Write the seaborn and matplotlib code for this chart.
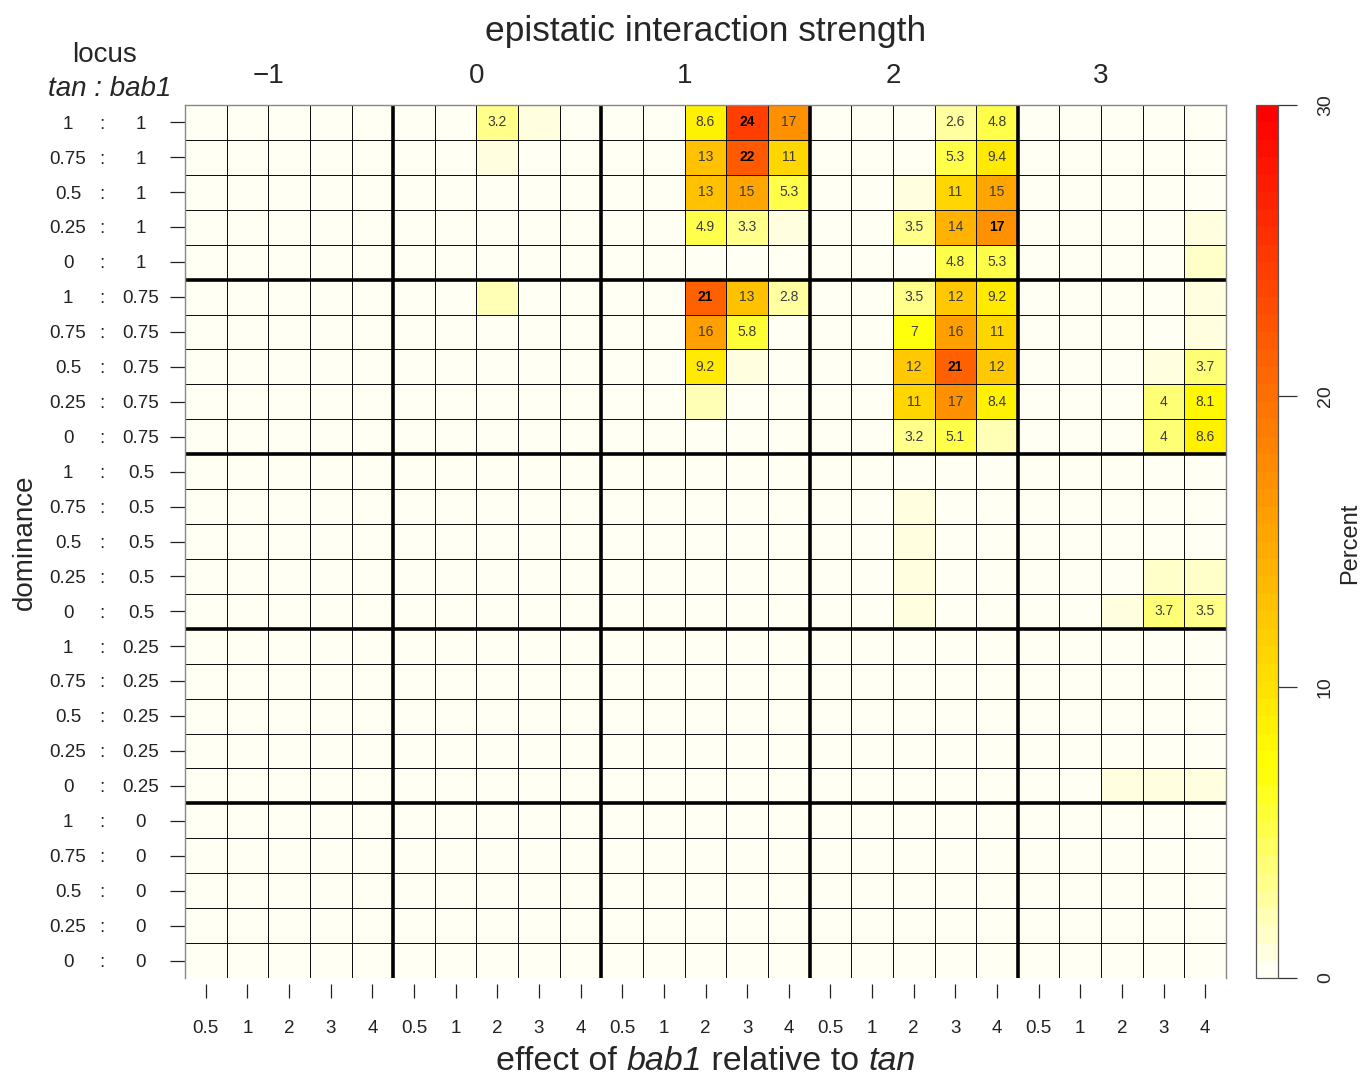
import numpy as np
import pandas as pd
import matplotlib
matplotlib.use("Agg")
import matplotlib.pyplot as plt
import seaborn as sns
from matplotlib.colors import ListedColormap, hsv_to_rgb
from matplotlib.transforms import blended_transform_factory

# ---------------- data ----------------
epistasis = ["\u22121", "0", "1", "2", "3"]          # epistatic interaction strength
effects = ["0.5", "1", "2", "3", "4"]                   # effect of bab1 relative to tan
dominance = ["1", "0.75", "0.5", "0.25", "0"]           # dominance levels

# Each block: rows = tan dominance (1, 0.75, 0.5, 0.25, 0); 25 columns = epistasis x effect
bab1_dom_1 = [
    [0, 0, 0, 0, 0,  0, 0, 3.2, 1.0, 0,  0, 0, 8.6, 24, 17,   0, 0, 0, 2.6, 4.8,  0, 0, 0, 0, 0],
    [0, 0, 0, 0, 0,  0, 0, 0.6, 0, 0,    0, 0, 13, 22, 11,    0, 0, 0, 5.3, 9.4,  0, 0, 0, 0, 0],
    [0, 0, 0, 0, 0,  0, 0, 0, 0, 0,      0, 0, 13, 15, 5.3,   0, 0, 0.6, 11, 15,  0, 0, 0, 0, 0],
    [0, 0, 0, 0, 0,  0, 0, 0, 0, 0,      0, 0, 4.9, 3.3, 0.8, 0, 0, 3.5, 14, 17,  0, 0, 0, 0, 0.7],
    [0, 0, 0, 0, 0,  0, 0, 0, 0, 0,      0, 0, 0, 0, 0,       0, 0, 0.4, 4.8, 5.3, 0, 0, 0, 0, 1.2],
]
bab1_dom_075 = [
    [0, 0, 0, 0, 0,  0, 0, 2.0, 0, 0,    0, 0, 21, 13, 2.8,   0, 0, 3.5, 12, 9.2, 0, 0, 0, 0, 0.7],
    [0, 0, 0, 0, 0,  0, 0, 0, 0, 0,      0, 0.4, 16, 5.8, 0,  0, 0, 7, 16, 11,    0, 0, 0, 0, 0.8],
    [0, 0, 0, 0, 0,  0, 0, 0, 0, 0,      0, 0.5, 9.2, 0.8, 0, 0, 0, 12, 21, 12,   0, 0, 0, 0.6, 3.7],
    [0, 0, 0, 0, 0,  0, 0, 0, 0, 0,      0, 0, 2.0, 0, 0,     0, 0, 11, 17, 8.4,  0, 0, 0, 4, 8.1],
    [0, 0, 0, 0, 0,  0, 0, 0, 0, 0,      0, 0, 0, 0, 0,       0, 0, 3.2, 5.1, 2.0, 0, 0, 0, 4, 8.6],
]
bab1_dom_05 = [
    [0, 0, 0, 0, 0,  0, 0, 0, 0, 0,      0, 0, 0, 0, 0,       0, 0, 0, 0, 0,      0, 0, 0, 0, 0],
    [0, 0, 0, 0, 0,  0, 0, 0, 0, 0,      0, 0, 0, 0, 0,       0, 0, 0.8, 0, 0,    0, 0, 0, 0, 0],
    [0, 0, 0, 0, 0,  0, 0, 0, 0, 0,      0, 0, 0, 0, 0,       0, 0, 1.0, 0, 0,    0, 0, 0, 0, 0],
    [0, 0, 0, 0, 0,  0, 0, 0, 0, 0,      0, 0, 0, 0, 0,       0, 0, 1.0, 0, 0,    0, 0, 0.5, 1.5, 1.2],
    [0, 0, 0, 0, 0,  0, 0, 0, 0, 0,      0, 0, 0, 0, 0,       0, 0, 1.0, 0, 0,    0, 0, 0.6, 3.7, 3.5],
]
bab1_dom_025 = [
    [0, 0, 0, 0, 0,  0, 0, 0, 0, 0,      0, 0, 0, 0, 0,       0, 0, 0, 0, 0,      0, 0, 0, 0, 0],
    [0, 0, 0, 0, 0,  0, 0, 0, 0, 0,      0, 0, 0, 0, 0,       0, 0, 0, 0, 0,      0, 0, 0, 0, 0],
    [0, 0, 0, 0, 0,  0, 0, 0, 0, 0,      0, 0, 0, 0, 0,       0, 0, 0, 0, 0,      0, 0, 0, 0, 0],
    [0, 0, 0, 0, 0,  0, 0, 0, 0, 0,      0, 0, 0, 0, 0,       0, 0, 0, 0, 0,      0, 0, 0, 0, 0],
    [0, 0, 0, 0, 0,  0, 0, 0, 0, 0,      0, 0, 0, 0, 0,       0, 0, 0, 0, 0,      0, 0, 0.6, 0.8, 0.6],
]
bab1_dom_0 = [
    [0] * 25,
    [0] * 25,
    [0] * 25,
    [0] * 25,
    [0] * 25,
]
bold_cells = [(0, 13), (1, 13), (3, 19), (5, 12), (7, 18)]

# ---------------- build table ----------------
values = np.array(bab1_dom_1 + bab1_dom_075 + bab1_dom_05 + bab1_dom_025 + bab1_dom_0, dtype=float)
col_index = pd.MultiIndex.from_product([epistasis, effects], names=["epistasis", "effect"])
row_index = pd.MultiIndex.from_product([dominance, dominance], names=["bab1", "tan"])
df = pd.DataFrame(values, index=row_index, columns=col_index)
annot = np.where(values >= 2.5, np.vectorize(lambda v: f"{v:.2g}")(values), "")

# R-style heat.colors, reversed
n = 50
j = n // 4
i = n - j
cols = [hsv_to_rgb((h, 1, 1)) for h in np.linspace(0, 1 / 6, i)]
cols += [hsv_to_rgb((1 / 6, s, 1)) for s in np.linspace(1 - 1 / (2 * j), 1 / (2 * j), j)]
cmap = ListedColormap(cols[::-1])

# ---------------- figure ----------------
sns.set_style("white")
plt.rcParams["font.family"] = ["Liberation Sans", "DejaVu Sans"]

W, H = 1363, 1079
fig = plt.figure(figsize=(W / 100, H / 100), dpi=100)
L, R, T, B = 185, 1226, 105, 978
ax = fig.add_axes([L / W, 1 - B / H, (R - L) / W, (B - T) / H])
cax = fig.add_axes([1256 / W, 1 - B / H, 22 / W, (B - T) / H])

sns.heatmap(df.values, ax=ax, cmap=cmap, vmin=0, vmax=30, annot=annot, fmt="",
            annot_kws={"fontsize": 10, "color": "#3c3c3c"},
            linewidths=0.7, linecolor="#111111", cbar_ax=cax,
            cbar_kws={"ticks": [0, 10, 20, 30]})

for t in ax.texts:
    x, y = t.get_position()
    if (int(y), int(x)) in bold_cells:
        t.set_fontweight("bold")
        t.set_color("black")

# group separators
for k in range(5, 25, 5):
    ax.axhline(k, color="black", lw=2.6)
    ax.axvline(k, color="black", lw=2.6)
for sp in ["top", "left", "right", "bottom"]:
    ax.spines[sp].set_visible(True)
    ax.spines[sp].set_color("#888888")
    ax.spines[sp].set_linewidth(1.0)

# x ticks (offset from the box like R's axis)
ax.spines["bottom"].set_position(("outward", 4))
ax.spines["bottom"].set_visible(False)
ax.set_xticks(np.arange(25) + 0.5)
ax.set_xticklabels(effects * 5, rotation=0)
ax.tick_params(axis="x", bottom=True, length=10, width=0.9, pad=16, color="#222222",
               labelsize=13.5, labelcolor="#222222")

# y ticks
ax.set_yticks(np.arange(25) + 0.5)
ax.set_yticklabels([""] * 25)
ax.tick_params(axis="y", left=True, length=11, width=0.9, color="#222222")

trans = blended_transform_factory(ax.transAxes, ax.transData)
for r in range(25):
    bab = dominance[r // 5]
    tan = dominance[r % 5]
    kw = dict(transform=trans, va="center", ha="center", fontsize=13.5, color="#222222")
    ax.text((68 - L) / (R - L), r + 0.55, tan, **kw)
    ax.text((102 - L) / (R - L), r + 0.55, ":", **kw)
    ax.text((141 - L) / (R - L), r + 0.55, bab, **kw)

# top group labels
transx = blended_transform_factory(ax.transData, ax.transAxes)
for g, lab in enumerate(epistasis):
    ax.text(g * 5 + 2, (B - 76) / (B - T), lab, transform=transx, ha="center", va="center",
            fontsize=20)

fig.text(706 / W, 1 - 32 / H, "epistatic interaction strength", ha="center", va="center", fontsize=25.5)
fig.text(104 / W, 1 - 55 / H, "locus", ha="center", va="center", fontsize=20)
fig.text(110 / W, 1 - 89 / H, "tan : bab1", ha="center", va="center", fontsize=20, style="italic")
fig.text(25 / W, 1 - 542 / H, "dominance", ha="center", va="center", fontsize=20, rotation=90)


def mixed_text(pieces, xc, yc, size):
    """Draw consecutive text pieces (text, italic?) centred at figure pixel (xc, yc)."""
    renderer = fig.canvas.get_renderer()
    objs = []
    for s, it in pieces:
        tt = fig.text(0, 1 - yc / H, s, fontsize=size, va="center", ha="left",
                      style="italic" if it else "normal")
        objs.append(tt)
    widths = [o.get_window_extent(renderer).width for o in objs]
    x = xc - sum(widths) / 2
    for o, w in zip(objs, widths):
        o.set_x(x / W)
        x += w


mixed_text([("effect of ", False), ("bab1", True), (" relative to ", False), ("tan", True)],
           706, 1062, 24.5)

# colorbar styling
cax.tick_params(axis="y", length=14, width=0.9, pad=14, labelsize=14, color="#333333",
                labelrotation=90)
for lbl in cax.get_yticklabels():
    lbl.set_va("center")
cbar = ax.collections[0].colorbar
cbar.outline.set_edgecolor("#555555")
cbar.outline.set_linewidth(0.9)
fig.text(1350 / W, 1 - 543 / H, "Percent", ha="center", va="center", fontsize=17, rotation=90)

fig.savefig("out.png", dpi=100)
